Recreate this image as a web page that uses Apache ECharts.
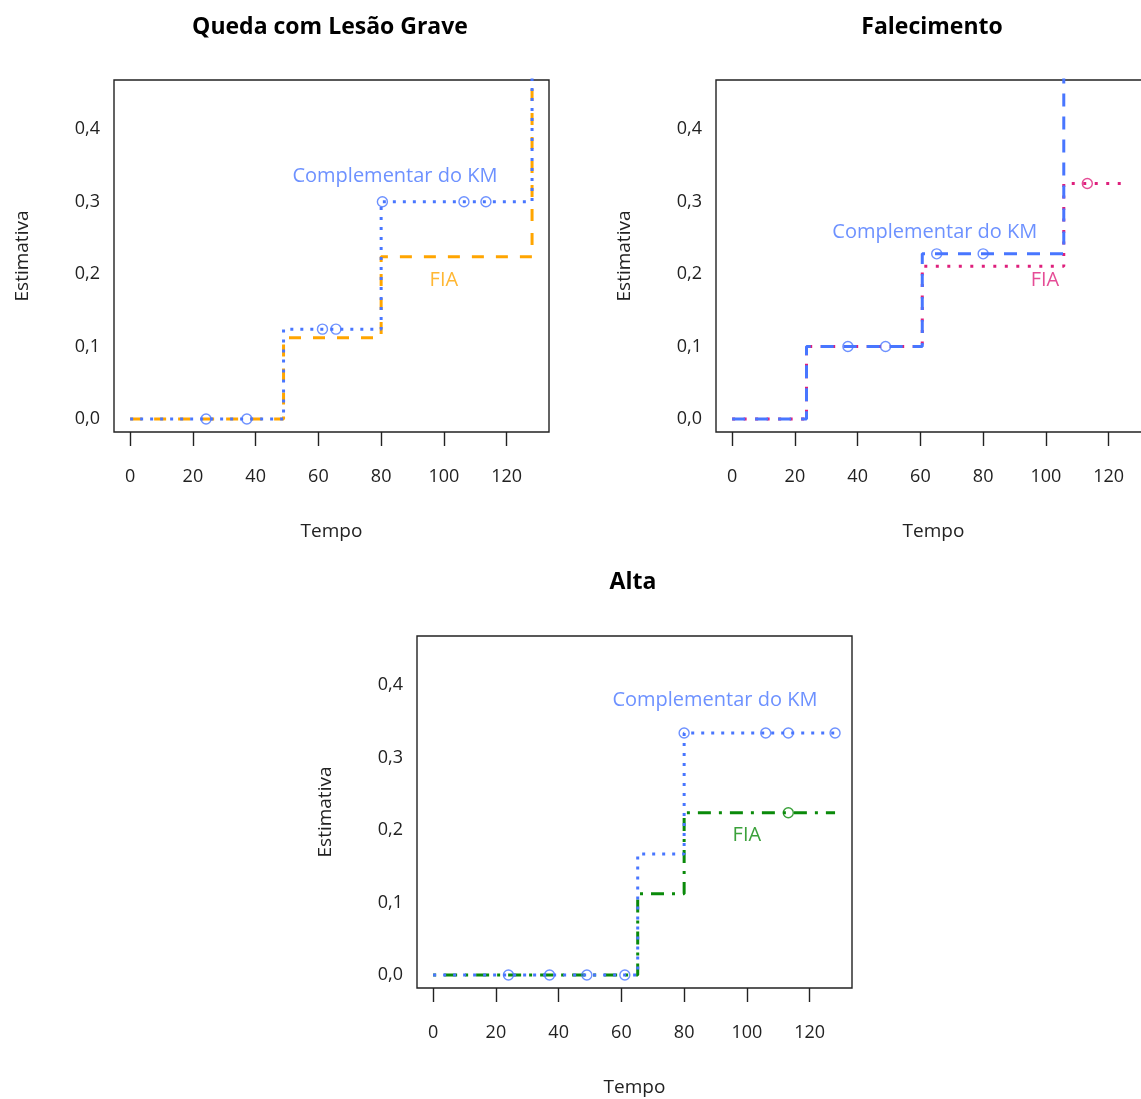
<!DOCTYPE html>
<html>
<head>
<meta charset="utf-8">
<script src="https://cdn.jsdelivr.net/npm/echarts@6/dist/echarts.min.js"></script>
<style>
html,body{margin:0;padding:0;background:#fff;}
#chart{width:1141px;height:1099px;}
</style>
</head>
<body>
<div id="chart"></div>
<script>
// ---------- data ----------
const xTicks = [0, 20, 40, 60, 80, 100, 120];
const yTicks = [0, 0.1, 0.2, 0.3, 0.4];

const panelTitles = ['Queda com Lesão Grave', 'Falecimento', 'Alta'];

// Panel 1: Queda com Lesão Grave
const p1KmTime = [0, 48.9, 80, 128.1, 128.1];
const p1KmValue = [0, 0.124, 0.300, 0.300, 1.0];
const p1FiaTime = [0, 48.9, 80, 128.1, 128.1];
const p1FiaValue = [0, 0.112, 0.224, 0.224, 0.925];
const p1KmCensTime = [24.2, 37.2, 61.3, 65.6, 80.4, 106.4, 113.4];
const p1KmCensValue = [0, 0, 0.124, 0.124, 0.300, 0.300, 0.300];
const p1FiaCensTime = [];
const p1FiaCensValue = [];

// Panel 2: Falecimento
const p2KmTime = [0, 23.7, 60.6, 105.7, 125.2];
const p2KmValue = [0, 0.100, 0.228, 0.62, 0.62];
const p2FiaTime = [0, 23.7, 60.6, 105.7, 125.2];
const p2FiaValue = [0, 0.100, 0.211, 0.325, 0.325];
const p2KmCensTime = [36.9, 48.9, 65.2, 80.0];
const p2KmCensValue = [0.100, 0.100, 0.228, 0.228];
const p2FiaCensTime = [113.2];
const p2FiaCensValue = [0.325];

// Panel 3: Alta
const p3KmTime = [0, 65.2, 80, 128.1];
const p3KmValue = [0, 0.167, 0.334, 0.334];
const p3FiaTime = [0, 65.2, 80, 128.1];
const p3FiaValue = [0, 0.112, 0.224, 0.224];
const p3KmCensTime = [24.0, 37.1, 49.0, 61.1, 80.0, 106.0, 113.2, 128.1];
const p3KmCensValue = [0, 0, 0, 0, 0.334, 0.334, 0.334, 0.334];
const p3FiaCensTime = [113.2];
const p3FiaCensValue = [0.224];

// annotation labels (data coordinates)
const kmLabelText = 'Complementar do KM';
const fiaLabelText = 'FIA';
const kmLabelPos = [[84.4, 0.335], [64.6, 0.258], [89.8, 0.379]];
const fiaLabelPos = [[100, 0.192], [99.7, 0.192], [100, 0.193]];

// ---------- styles ----------
const BLUE = '#4876FF';
const FIA_COLORS = ['#FFA500', '#DE1F7C', '#0A8A0A'];
const DOTTED = [3, 7];
const DASHED = [13, 10];
const DOTDASH = [3, 8, 13, 8];
const KM_DASH = [DOTTED, DASHED, DOTTED];
const FIA_DASH = [[12, 12], [3, 8.5], DOTDASH];

const FONT = '"Open Sans", Lato, sans-serif';
const grids = [
  {left: 114, top: 80, width: 435, height: 352},
  {left: 716, top: 80, width: 435, height: 352},
  {left: 417, top: 636, width: 435, height: 352}
];
const titleCenters = [[330, 27], [932, 27], [633, 582]];

const zip = (a, b) => a.map((v, i) => [v, b[i]]);
const panels = [
  {km: zip(p1KmTime, p1KmValue), fia: zip(p1FiaTime, p1FiaValue), kmC: zip(p1KmCensTime, p1KmCensValue), fiaC: zip(p1FiaCensTime, p1FiaCensValue)},
  {km: zip(p2KmTime, p2KmValue), fia: zip(p2FiaTime, p2FiaValue), kmC: zip(p2KmCensTime, p2KmCensValue), fiaC: zip(p2FiaCensTime, p2FiaCensValue)},
  {km: zip(p3KmTime, p3KmValue), fia: zip(p3FiaTime, p3FiaValue), kmC: zip(p3KmCensTime, p3KmCensValue), fiaC: zip(p3FiaCensTime, p3FiaCensValue)}
];

const xAxes = [], yAxes = [], series = [], graphics = [];
grids.forEach((g, i) => {
  g.show = true;
  g.borderColor = '#222';
  g.borderWidth = 1.4;
  g.backgroundColor = 'transparent';
  g.outerBoundsMode = 'none';
  g.containLabel = false;
  xAxes.push({
    type: 'value', gridIndex: i, min: -5.14, max: 133.5,
    name: 'Tempo', nameLocation: 'middle', nameGap: 90, nameMoveOverlap: false,
    nameTextStyle: {fontFamily: FONT, fontSize: 19, color: '#222'},
    axisLine: {show: false, onZero: false},
    axisTick: {show: true, inside: false, length: 14, customValues: xTicks, lineStyle: {color: '#222', width: 1.4}},
    axisLabel: {customValues: xTicks, margin: 36, fontFamily: FONT, fontSize: 18, color: '#222'},
    splitLine: {show: false}
  });
  yAxes.push({
    type: 'value', gridIndex: i, min: -0.018, max: 0.468,
    name: 'Estimativa', nameLocation: 'middle', nameGap: 82, nameRotate: 90, nameMoveOverlap: false,
    nameTextStyle: {fontFamily: FONT, fontSize: 19, color: '#222'},
    axisLine: {show: false, onZero: false},
    axisTick: {show: false},
    axisLabel: {customValues: yTicks, margin: 14, fontFamily: FONT, fontSize: 18, color: '#222',
      formatter: v => v.toFixed(1).replace('.', ',')},
    splitLine: {show: false}
  });
  const p = panels[i];
  series.push({
    type: 'line', xAxisIndex: i, yAxisIndex: i, data: p.km, step: 'end', symbol: 'none',
    clip: true, silent: true, animation: false,
    lineStyle: {color: BLUE, width: 3, type: KM_DASH[i], cap: 'butt'}, z: 3
  });
  series.push({
    type: 'line', xAxisIndex: i, yAxisIndex: i, data: p.fia, step: 'end', symbol: 'none',
    clip: true, silent: true, animation: false,
    lineStyle: {color: FIA_COLORS[i], width: 3, type: FIA_DASH[i], cap: 'butt'}, z: 2
  });
  series.push({
    type: 'scatter', xAxisIndex: i, yAxisIndex: i, data: p.kmC, symbol: 'circle', symbolSize: 10,
    clip: true, silent: true, animation: false,
    itemStyle: {color: 'rgba(0,0,0,0)', borderColor: BLUE, borderWidth: 1.4}, z: 4
  });
  series.push({
    type: 'scatter', xAxisIndex: i, yAxisIndex: i, data: p.fiaC, symbol: 'circle', symbolSize: 10,
    clip: true, silent: true, animation: false,
    itemStyle: {color: 'rgba(0,0,0,0)', borderColor: FIA_COLORS[i], borderWidth: 1.4}, z: 4
  });
  series.push({
    type: 'scatter', xAxisIndex: i, yAxisIndex: i, data: [kmLabelPos[i]], symbolSize: 1,
    silent: true, animation: false, itemStyle: {color: 'rgba(0,0,0,0)'},
    label: {show: true, position: 'inside', formatter: kmLabelText, color: BLUE, fontFamily: FONT, fontSize: 20}, z: 5
  });
  series.push({
    type: 'scatter', xAxisIndex: i, yAxisIndex: i, data: [fiaLabelPos[i]], symbolSize: 1,
    silent: true, animation: false, itemStyle: {color: 'rgba(0,0,0,0)'},
    label: {show: true, position: 'inside', formatter: fiaLabelText, color: FIA_COLORS[i], fontFamily: FONT, fontSize: 20}, z: 5
  });
  graphics.push({
    type: 'text', x: titleCenters[i][0], y: titleCenters[i][1],
    style: {text: panelTitles[i], fill: '#000', font: 'bold 23px ' + FONT,
      textAlign: 'center', textVerticalAlign: 'middle', align: 'center', verticalAlign: 'middle'}
  });
});

const chart = echarts.init(document.getElementById('chart'), null, {renderer: 'canvas'});
chart.setOption({
  animation: false,
  backgroundColor: '#fff',
  grid: grids,
  xAxis: xAxes,
  yAxis: yAxes,
  series: series,
  graphic: graphics
});
</script>
</body>
</html>
